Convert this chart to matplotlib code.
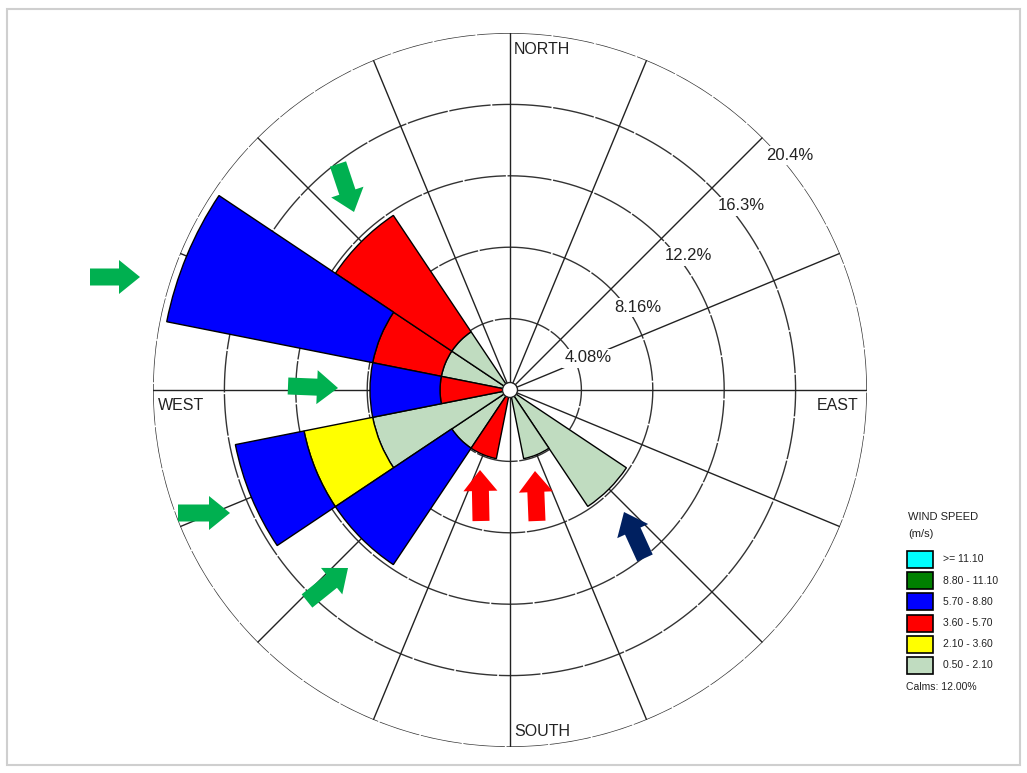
import numpy as np
import matplotlib
matplotlib.use("Agg")
import matplotlib.pyplot as plt
import matplotlib.transforms as mtransforms
from matplotlib.patches import Rectangle, FancyArrow, Circle

plt.rcParams["font.family"] = ["Liberation Sans", "DejaVu Sans"]

W, H = 1027, 773

# wind directions, clockwise from north
directions = ["N", "NNE", "NE", "ENE", "E", "ESE", "SE", "SSE",
              "S", "SSW", "SW", "WSW", "W", "WNW", "NW", "NNW"]

# frequency (%) per speed class, lowest class first
freq_050_210 = [0, 0, 0, 0, 0, 0, 8.0, 4.0, 0, 0, 4.0, 8.0, 0, 4.0, 4.0, 0]
freq_210_360 = [0, 0, 0, 0, 0, 0, 0, 0, 0, 0, 0, 4.0, 0, 0, 0, 0]
freq_360_570 = [0, 0, 0, 0, 0, 0, 0, 0, 0, 4.0, 0, 0, 4.0, 4.0, 8.0, 0]
freq_570_880 = [0, 0, 0, 0, 0, 0, 0, 0, 0, 0, 8.0, 4.0, 4.0, 12.0, 0, 0]
freq_880_1110 = [0] * 16
freq_1110_up = [0] * 16

speed_labels = [">= 11.10", "8.80 - 11.10", "5.70 - 8.80",
                "3.60 - 5.70", "2.10 - 3.60", "0.50 - 2.10"]
speed_colors = ["#00FFFF", "#008000", "#0000FF", "#FF0000", "#FFFF00", "#C0DCC0"]
calms = 12.00

ring_values = [4.08, 8.16, 12.24, 16.32, 20.4]
ring_labels = ["4.08%", "8.16%", "12.2%", "16.3%", "20.4%"]

fig = plt.figure(figsize=(W / 100, H / 100), dpi=100)
# pixel coords, origin top-left
pix = mtransforms.Affine2D().scale(1 / W, -1 / H).translate(0, 1) + fig.transFigure

# polar axes: center (510, 390), radius 357 px
cx, cy, R = 510, 390, 357
ax = fig.add_axes([(cx - R) / W, 1 - (cy + R) / H, 2 * R / W, 2 * R / H],
                  projection="polar")
ax.set_theta_zero_location("N")
ax.set_theta_direction(-1)
ax.set_ylim(0, ring_values[-1])
ax.grid(False)
ax.set_xticks([])
ax.set_yticks([])
ax.spines["polar"].set_visible(False)
ax.patch.set_alpha(0)

theta = np.deg2rad(np.arange(16) * 22.5)
width = np.deg2rad(22.5)

# grid: rings and spokes
tt = np.linspace(0, 2 * np.pi, 720)
for rv in ring_values:
    ax.plot(tt, np.full_like(tt, rv), color="#333333", lw=1.0,
            ls=(0, (30, 1.2)), zorder=1)
for t in theta:
    ax.plot([t, t], [0, ring_values[-1]], color="#222222", lw=1.0, zorder=1)

# stacked bars, lowest speed class innermost
classes = [freq_050_210, freq_210_360, freq_360_570,
           freq_570_880, freq_880_1110, freq_1110_up]
bottom = np.zeros(16)
for vals, col in zip(classes, speed_colors[::-1]):
    vals = np.array(vals, dtype=float)
    m = vals > 0
    if m.any():
        ax.bar(theta[m], vals[m], width=width, bottom=bottom[m], color=col,
               edgecolor="black", linewidth=1.0, zorder=3)
    bottom += vals

ax.add_patch(Circle((0.5, 0.5), 7.5 / (2 * R), transform=ax.transAxes,
                    facecolor="white", edgecolor="#222222", lw=1.0, zorder=5))

# ring labels
label_px = [(588, 358), (638, 307), (688, 256), (741, 206), (790, 155)]
for (x, y), lab in zip(label_px, ring_labels):
    fig.text(x, y, lab, transform=pix, ha="center", va="center", fontsize=12,
             color="#222222", zorder=6,
             bbox=dict(facecolor="white", edgecolor="none", pad=1.5))

# compass labels
txt = dict(transform=pix, fontsize=11.5, color="#222222", va="center",
           bbox=dict(facecolor="white", edgecolor="none", pad=1.0))
fig.text(514, 49, "NORTH", ha="left", **txt)
fig.text(514, 731, "SOUTH", ha="left", **txt)
fig.text(158, 406, "WEST", ha="left", **txt)
fig.text(817, 406, "EAST", ha="left", **txt)

# legend
fig.text(908, 517, "WIND SPEED", transform=pix, fontsize=8, color="#222222",
         ha="left", va="center")
fig.text(908, 534, "(m/s)", transform=pix, fontsize=8, color="#222222",
         ha="left", va="center")
for i, (lab, col) in enumerate(zip(speed_labels, speed_colors)):
    y0 = 551 + i * 21.2
    fig.patches.append(Rectangle((907, y0), 26, 17, transform=pix,
                                 facecolor=col, edgecolor="black", lw=1.2))
    fig.text(943, y0 + 8.5, lab, transform=pix, fontsize=7.5, color="#222222",
             ha="left", va="center")
fig.text(906, 687, f"Calms: {calms:.2f}%", transform=pix, fontsize=7.5,
         color="#222222", ha="left", va="center")

# annotation arrows
green, red, navy = "#00B050", "#FF0000", "#002060"
arrows = [
    ((90, 277), (140, 277), green),
    ((338, 164), (354, 212), green),
    ((288, 386), (338, 388), green),
    ((178, 513), (230, 513), green),
    ((307, 601), (348, 568), green),
    ((481, 521), (480, 470), red),
    ((537, 521), (535, 471), red),
    ((645, 558), (624, 512), navy),
]
for (x0, y0), (x1, y1), col in arrows:
    fig.patches.append(FancyArrow(x0, y0, x1 - x0, y1 - y0, width=17,
                                  head_width=34, head_length=21,
                                  length_includes_head=True, transform=pix,
                                  facecolor=col, edgecolor="none"))

# picture frame
fig.patches.append(Rectangle((7, 9), 1013, 756, transform=pix, fill=False,
                             edgecolor="#cfcfcf", lw=1.5))

fig.savefig("out.png", dpi=100)
